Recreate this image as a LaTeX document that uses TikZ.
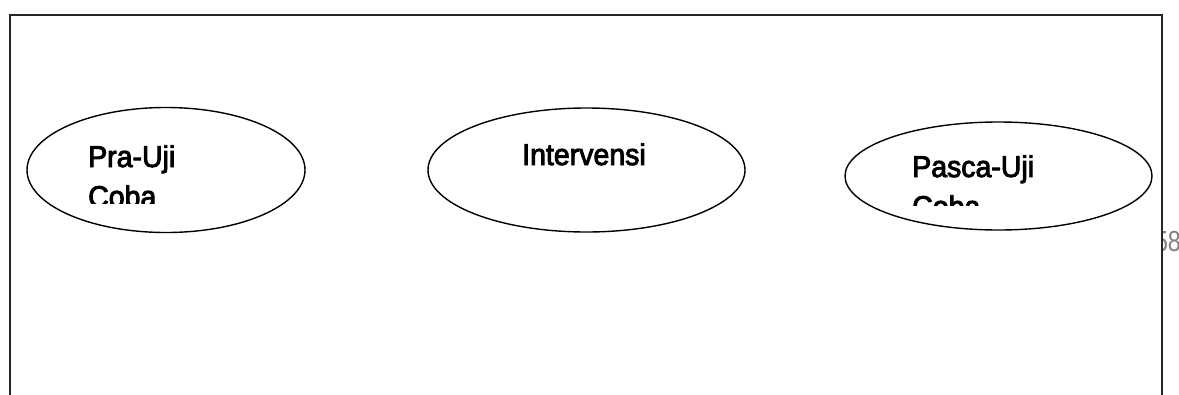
\documentclass[tikz,border=0pt]{standalone}
\usepackage{fontspec}
\setmainfont{Liberation Sans}
\newfontfamily\lblfont{Liberation Sans}[FakeBold=3,FakeStretch=0.95]
\newfontfamily\numfont{Liberation Sans}[FakeStretch=0.8]
\usetikzlibrary{shapes.geometric}
\begin{document}
\begin{tikzpicture}[x=1pt,y=-1pt,
  oval/.style={draw=black, line width=1.4pt, ellipse, inner sep=0pt},
  lbl/.style={anchor=base west, inner sep=0pt, font=\lblfont\fontsize{30}{36}\selectfont, text=black},
  pgnum/.style={anchor=base east, inner sep=0pt, font=\numfont\fontsize{29}{36}\selectfont, text=black!50}]
\useasboundingbox (0,0) rectangle (1179,394);
% frame
\draw[line width=1.6pt, draw=black!85] (10,400) -- (10,15) -- (1162,15) -- (1162,400);
% ellipses
\node[oval, minimum width=278pt, minimum height=125pt] (e1) at (166,170) {};
\node[oval, minimum width=317pt, minimum height=124pt] (e2) at (586.5,170) {};
\node[oval, minimum width=307pt, minimum height=108pt] (e3) at (998.5,176) {};
% labels
\begin{scope}
  \clip (60,120) rectangle (300,203);
  \node[lbl] (t1a) at (88,167) {Pra-Uji};
  \node[lbl] (t1b) at (88,207) {Coba};
\end{scope}
\node[lbl] (t2) at (522,165) {Intervensi};
\begin{scope}
  \clip (880,130) rectangle (1140,205);
  \node[lbl] (t3a) at (912,177) {Pasca-Uji};
  \node[lbl] (t3b) at (912,217) {Coba};
\end{scope}
% page number
\begin{scope}
  \clip (1163,200) rectangle (1179,300);
  \node[pgnum] (pn) at (1181,251) {58};
\end{scope}
\end{tikzpicture}
\end{document}
